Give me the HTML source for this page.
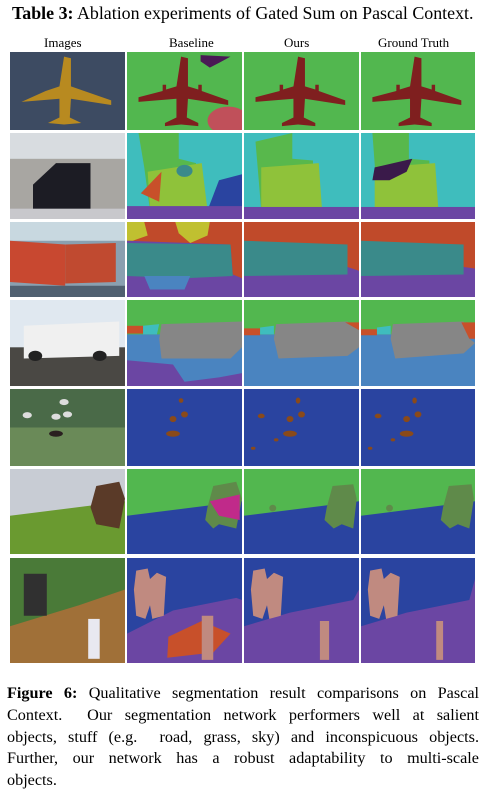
<!DOCTYPE html>
<html><head><meta charset="utf-8">
<style>
body{margin:0;background:#fff;width:490px;height:803px;position:relative;overflow:hidden;font-family:"Liberation Serif",serif;color:#000}
.t{position:absolute;white-space:nowrap}
.cell{position:absolute}
.cap{position:absolute;left:7px;width:472px;font-size:16.2px;line-height:21.8px;top:683px}
.ln{text-align:justify;text-align-last:justify;white-space:nowrap}
.ln.last{text-align-last:left}
</style></head><body>
<div class="t" style="left:12px;top:3px;font-size:17.9px"><b>Table 3:</b> Ablation experiments of Gated Sum on Pascal Context.</div>
<div class="t" style="left:44px;top:35px;font-size:13px">Images</div>
<div class="t" style="left:169px;top:35px;font-size:13px">Baseline</div>
<div class="t" style="left:284px;top:35px;font-size:13px">Ours</div>
<div class="t" style="left:378px;top:35px;font-size:13px">Ground Truth</div>
<div id="grid"></div>
<div class="cap">
<div class="ln"><b>Figure 6:</b> Qualitative segmentation result comparisons on Pascal</div>
<div class="ln">Context.&nbsp; Our segmentation network performers well at salient</div>
<div class="ln">objects, stuff (e.g.&nbsp; road, grass, sky) and inconspicuous objects.</div>
<div class="ln">Further, our network has a robust adaptability to multi-scale</div>
<div class="ln last">objects.</div>
</div>
<script>
const colX=[10,127,244,361];
const colW=[115,115,115,114];
const rowY=[52,133,222,300,389,469,558];
const rowH=[78,86,75,86,77,85,105];
const plane='<path d="M47,6 L53,8 L53,44 L62,48 L62,42 L65,42 L65,50 L88,62 L88,68 L53,60 L52,84 L62,91 L62,95 L47,93 L33,95 L33,91 L43,84 L43,60 L10,64 L10,58 L31,50 L31,42 L34,42 L34,48 L43,44 Z" fill="#7f1f1f"/>';
const ppl='<path d="M8,12 L18,10 L20,20 L26,14 L34,18 L32,55 L22,58 L20,45 L16,58 L8,55 L6,30Z" fill="#c08a80"/>';
const cells=[
 [ '<rect width="100" height="100" fill="#3d4b62"/><path d="M47,6 L53,8 L53,44 L88,62 L88,68 L53,60 L52,84 L62,91 L47,93 L33,91 L43,84 L43,60 L10,64 L31,50 L43,44 Z" fill="#b88a20"/>',
   '<rect width="100" height="100" fill="#52b74f"/><path d="M64,4 L90,6 L80,14 L72,20 L64,12Z" fill="#4a1a55"/><circle cx="88" cy="88" r="18" fill="#c0505a"/>'+plane,
   '<rect width="100" height="100" fill="#52b74f"/>'+plane,
   '<rect width="100" height="100" fill="#52b74f"/>'+plane],
 [ '<rect width="100" height="100" fill="#a8a6a2"/><rect width="100" height="30" fill="#d8dce0"/><path d="M20,60 L40,35 L70,35 L70,90 L20,90Z" fill="#1c1c24"/><rect y="88" width="100" height="12" fill="#c8c8cc"/>',
   '<rect width="100" height="100" fill="#3fbdbd"/><path d="M10,0 L45,0 L45,30 L60,35 L60,90 L20,90 L15,40Z" fill="#58b84c"/><path d="M18,45 L65,35 L70,90 L20,90Z" fill="#8fc23a"/><path d="M12,70 L30,45 L28,80Z" fill="#c8502a"/><circle cx="50" cy="44" r="7" fill="#3a8a8a"/><path d="M80,55 L100,48 L100,100 L70,90Z" fill="#2a44a0"/><rect y="85" width="100" height="15" fill="#6b46a3"/>',
   '<rect width="100" height="100" fill="#3fbdbd"/><path d="M10,10 L42,0 L42,30 L60,32 L60,90 L15,90Z" fill="#58b84c"/><path d="M15,40 L65,35 L68,92 L15,90Z" fill="#8fc23a"/><rect y="86" width="100" height="14" fill="#6b46a3"/>',
   '<rect width="100" height="100" fill="#3fbdbd"/><path d="M10,0 L42,0 L42,30 L60,32 L60,90 L15,90Z" fill="#58b84c"/><path d="M12,40 L65,35 L68,92 L12,90Z" fill="#8fc23a"/><path d="M12,40 L45,30 L40,45 L25,55 L10,55Z" fill="#3a1a4a"/><rect y="86" width="100" height="14" fill="#6b46a3"/>'],
 [ '<rect width="100" height="100" fill="#8aa0b0"/><rect width="100" height="25" fill="#c8d8e0"/><path d="M0,25 L48,30 L48,85 L0,80Z" fill="#c84830"/><path d="M48,30 L92,28 L92,80 L48,82Z" fill="#c04a30"/><rect y="85" width="100" height="15" fill="#506070"/>',
   '<rect width="100" height="100" fill="#c04a2a"/><path d="M0,0 L15,0 L18,18 L5,25 L0,25Z" fill="#c0c030"/><path d="M42,0 L72,0 L70,18 L55,28 L45,15Z" fill="#c0c030"/><path d="M0,25 L90,30 L92,70 L100,75 L100,100 L0,100Z" fill="#6b46a3"/><path d="M0,28 L90,30 L92,72 L50,75 L0,72Z" fill="#3a8a8a"/><path d="M15,72 L55,72 L50,90 L20,90Z" fill="#4a84c0"/>',
   '<rect width="100" height="100" fill="#c04a2a"/><path d="M0,65 L90,60 L100,65 L100,100 L0,100Z" fill="#6b46a3"/><path d="M0,25 L90,30 L90,70 L0,72Z" fill="#3a8a8a"/>',
   '<rect width="100" height="100" fill="#c04a2a"/><path d="M0,65 L90,60 L100,62 L100,100 L0,100Z" fill="#6b46a3"/><path d="M0,25 L90,30 L90,70 L0,72Z" fill="#3a8a8a"/>'],
 [ '<rect width="100" height="100" fill="#e0e8f0"/><rect y="55" width="100" height="45" fill="#4a4844"/><path d="M12,30 L95,25 L95,65 L12,68Z" fill="#f0f0f0"/><circle cx="22" cy="65" r="6" fill="#222"/><circle cx="78" cy="65" r="6" fill="#222"/>',
   '<rect width="100" height="100" fill="#52b74f"/><rect y="40" width="100" height="60" fill="#4a84c0"/><path d="M0,70 L40,75 L50,95 L80,90 L100,85 L100,100 L0,100Z" fill="#6b46a3"/><rect y="30" width="14" height="9" fill="#c8502a"/><path d="M14,30 L28,28 L26,40 L14,40Z" fill="#3fbdbd"/><path d="M30,28 L100,25 L100,55 L90,68 L30,68 L28,45Z" fill="#868686"/>',
   '<rect width="100" height="100" fill="#52b74f"/><rect y="40" width="100" height="60" fill="#4a84c0"/><rect y="33" width="14" height="8" fill="#c8502a"/><path d="M14,32 L26,30 L26,40 L14,40Z" fill="#3fbdbd"/><path d="M28,28 L90,25 L100,35 L100,55 L90,65 L30,68 L26,45Z" fill="#868686"/><path d="M88,26 L100,26 L100,35Z" fill="#c8502a"/>',
   '<rect width="100" height="100" fill="#52b74f"/><rect y="40" width="100" height="60" fill="#4a84c0"/><rect y="34" width="14" height="7" fill="#c8502a"/><path d="M14,32 L26,30 L26,40 L14,40Z" fill="#3fbdbd"/><path d="M28,28 L90,25 L95,45 L100,50 L90,62 L30,68 L26,45Z" fill="#868686"/><path d="M88,26 L100,26 L100,45 L95,45Z" fill="#c8502a"/>'],
 [ '<rect width="100" height="100" fill="#4a6a48"/><rect y="50" width="100" height="50" fill="#6a8a58"/><circle cx="47" cy="17" r="4" fill="#ddd"/><circle cx="15" cy="34" r="4" fill="#ddd"/><circle cx="40" cy="36" r="4" fill="#ddd"/><circle cx="50" cy="33" r="4" fill="#ddd"/><ellipse cx="40" cy="58" rx="6" ry="4" fill="#2a2020"/>',
   '<rect width="100" height="100" fill="#2a44a0"/><ellipse cx="47" cy="15" rx="2" ry="3" fill="#8a4a1a"/><ellipse cx="50" cy="33" rx="3" ry="4" fill="#8a4a1a"/><ellipse cx="40" cy="39" rx="3" ry="4" fill="#8a4a1a"/><ellipse cx="40" cy="58" rx="6" ry="4" fill="#8a4a1a"/>',
   '<rect width="100" height="100" fill="#2a44a0"/><ellipse cx="47" cy="15" rx="2" ry="4" fill="#8a4a1a"/><ellipse cx="50" cy="33" rx="3" ry="4" fill="#8a4a1a"/><ellipse cx="40" cy="39" rx="3" ry="4" fill="#8a4a1a"/><ellipse cx="15" cy="35" rx="3" ry="3" fill="#8a4a1a"/><ellipse cx="40" cy="58" rx="6" ry="4" fill="#8a4a1a"/><circle cx="28" cy="66" r="2" fill="#8a4a1a"/><circle cx="8" cy="77" r="2" fill="#8a4a1a"/>',
   '<rect width="100" height="100" fill="#2a44a0"/><ellipse cx="47" cy="15" rx="2" ry="4" fill="#8a4a1a"/><ellipse cx="50" cy="33" rx="3" ry="4" fill="#8a4a1a"/><ellipse cx="40" cy="39" rx="3" ry="4" fill="#8a4a1a"/><ellipse cx="15" cy="35" rx="3" ry="3" fill="#8a4a1a"/><ellipse cx="40" cy="58" rx="6" ry="4" fill="#8a4a1a"/><circle cx="28" cy="66" r="2" fill="#8a4a1a"/><circle cx="8" cy="77" r="2" fill="#8a4a1a"/>'],
 [ '<rect width="100" height="100" fill="#c8ccd4"/><path d="M0,55 L100,38 L100,100 L0,100Z" fill="#6a9a30"/><path d="M75,20 L95,15 L100,35 L95,70 L75,65 L70,45Z" fill="#5a3a28"/>',
   '<rect width="100" height="100" fill="#52b74f"/><path d="M0,55 L100,38 L100,100 L0,100Z" fill="#2a44a0"/><path d="M75,20 L95,15 L100,35 L95,70 L80,65 L75,70 L68,60 L70,45Z" fill="#5f8a4a"/><path d="M72,38 L98,30 L98,60 L80,55Z" fill="#c02a8a"/>',
   '<rect width="100" height="100" fill="#52b74f"/><path d="M0,55 L100,38 L100,100 L0,100Z" fill="#2a44a0"/><path d="M77,20 L95,18 L98,35 L95,70 L85,65 L78,70 L70,60 L72,45Z" fill="#5f8a4a"/><ellipse cx="25" cy="46" rx="3" ry="4" fill="#5f8a4a"/>',
   '<rect width="100" height="100" fill="#52b74f"/><path d="M0,55 L100,38 L100,100 L0,100Z" fill="#2a44a0"/><path d="M77,20 L97,18 L99,35 L95,70 L85,65 L78,70 L70,60 L72,45Z" fill="#5f8a4a"/><ellipse cx="25" cy="46" rx="3" ry="4" fill="#5f8a4a"/>'],
 [ '<rect width="100" height="100" fill="#a07038"/><path d="M0,0 L100,0 L100,30 L60,45 L0,65Z" fill="#4a7a38"/><rect x="12" y="15" width="20" height="40" fill="#303030"/><rect x="68" y="58" width="10" height="38" fill="#e8e8f0"/>',
   '<rect width="100" height="100" fill="#2a44a0"/><path d="M0,72 L40,50 L95,38 L100,40 L100,100 L0,100Z" fill="#6b46a3"/>'+ppl+'<path d="M36,75 L65,60 L90,72 L75,90 L35,95Z" fill="#c8502a"/><path d="M65,55 L75,55 L75,97 L65,97Z" fill="#c08a80"/>',
   '<rect width="100" height="100" fill="#2a44a0"/><path d="M0,65 L40,52 L95,40 L100,30 L100,100 L0,100Z" fill="#6b46a3"/>'+ppl+'<path d="M66,60 L74,60 L74,97 L66,97Z" fill="#c08a80"/>',
   '<rect width="100" height="100" fill="#2a44a0"/><path d="M0,65 L40,52 L95,40 L100,20 L100,100 L0,100Z" fill="#6b46a3"/>'+ppl+'<path d="M66,60 L72,60 L72,97 L66,97Z" fill="#c08a80"/>']
];
const colNames=['image','baseline','ours','ground-truth'];
const g=document.getElementById('grid');
for(let r=0;r<rowY.length;r++){for(let c=0;c<4;c++){
 const d=document.createElement('div');
 d.className='cell';
 d.style.cssText='left:'+colX[c]+'px;top:'+rowY[r]+'px;width:'+colW[c]+'px;height:'+rowH[r]+'px';
 
 
 d.innerHTML='<svg width="'+colW[c]+'" height="'+rowH[r]+'" viewBox="0 0 100 100" preserveAspectRatio="none" style="display:block">'+cells[r][c]+'</svg>';
 g.appendChild(d);
}}
</script>
</body></html>
